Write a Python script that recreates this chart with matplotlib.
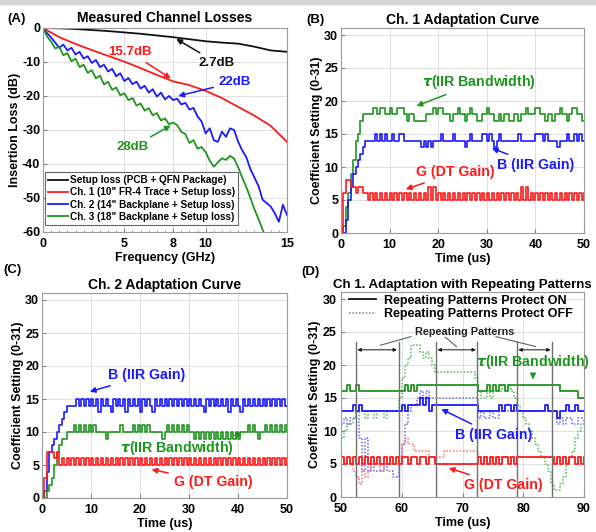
import matplotlib
matplotlib.use('Agg')
import matplotlib.pyplot as plt
import numpy as np
from matplotlib.ticker import MultipleLocator
from matplotlib.patches import Rectangle

plt.rcParams['font.family'] = ['Liberation Sans', 'DejaVu Sans']
plt.rcParams['font.weight'] = 'bold'
plt.rcParams['axes.unicode_minus'] = False
plt.rcParams['mathtext.fontset'] = 'dejavusans'

RED, BLUE, GREEN, BLACK = '#ff1a1a', '#1a1aff', '#1e961e', '#111111'
RED_L, BLUE_L, GREEN_L = '#ff8080', '#7a7aff', '#70c070'

# ---------------- (A) measured channel losses ----------------
freq_coarse = [0, 1, 2, 3, 4, 5, 6, 7, 8, 9, 10, 11, 12, 13, 14, 15]
setup_loss = [0, -0.1, -0.3, -0.6, -0.9, -1.3, -1.7, -2.2, -2.7, -3.3,
              -3.9, -4.3, -4.6, -5.5, -6.6, -7.0]
ch1_loss = [0, -2.7, -4.7, -6.5, -8.2, -9.9, -11.8, -13.8, -15.7, -16.8,
            -18.5, -20.6, -23.2, -25.8, -28.8, -33.5]

freq_fine = np.arange(61) * 0.25
ch2_loss = [0, -1.5, -2.8, -4.3, -5.8, -4.9, -6.6, -5.8, -7.8, -7.0,
            -9.0, -8.3, -10.3, -9.4, -11.5, -10.8, -12.8, -12.0, -14.2, -13.3,
            -15.6, -14.7, -16.5, -15.8, -17.8, -17.0, -19.0, -18.0, -20.2, -19.0,
            -21.0, -20.0, -21.2, -20.8, -22.5, -22.0, -24.0, -23.5, -26.0, -27.5,
            -31.0, -29.5, -33.0, -33.5, -30.5, -32.0, -29.5, -30.0, -33.5, -36.0,
            -38.0, -41.5, -44.0, -46.5, -50.5, -51.5, -52.5, -54.5, -57.0, -52.0,
            -55.0]
ch3_loss = [0, -2.5, -4.0, -6.0, -5.5, -8.0, -7.4, -9.8, -9.0, -11.5,
            -10.8, -13.2, -12.4, -14.8, -14.0, -16.6, -15.8, -18.2, -17.5, -19.8,
            -19.2, -21.2, -20.6, -22.8, -22.2, -24.3, -23.6, -25.7, -25.0, -27.2,
            -26.6, -28.3, -27.8, -28.6, -30.5, -31.2, -33.8, -33.0, -35.5, -35.0,
            -36.5, -39.0, -40.8, -39.5, -38.3, -38.8, -37.6, -38.4, -41.0, -44.0,
            -46.8, -50.0, -53.3, -56.2, -59.3, -62.5]
legend_a = ['Setup loss (PCB + QFN Package)',
            'Ch. 1 (10" FR-4 Trace + Setup loss)',
            'Ch. 2 (14" Backplane + Setup loss)',
            'Ch. 3 (18" Backplane + Setup loss)']

# ---------------- (B) Ch.1 adaptation, 0.5 us samples ----------------
t_bc = np.arange(101) * 0.5
tau_b = [0, 1, 4, 6, 9, 11, 14, 15, 17, 18,
         18, 18, 18, 19, 19, 18, 19, 19, 18, 18,
         19, 18, 18, 19, 19, 19, 18, 17, 18, 18,
         17, 17, 17, 17, 17, 18, 18, 18, 19, 18,
         19, 19, 18, 18, 18, 17, 18, 18, 19, 18,
         18, 17, 18, 19, 18, 18, 17, 17, 18, 18,
         19, 18, 18, 17, 17, 18, 17, 18, 18, 17,
         17, 18, 18, 17, 18, 18, 19, 18, 18, 18,
         19, 19, 18, 18, 17, 18, 18, 17, 18, 18,
         19, 18, 18, 17, 18, 19, 19, 18, 18, 17,
         17]
b_b = [0, 0, 2, 5, 7, 9, 10, 11, 12, 13,
       14, 14, 14, 14, 15, 14, 15, 14, 15, 14,
       14, 15, 14, 14, 15, 15, 14, 14, 14, 14,
       14, 14, 14, 13, 14, 13, 14, 13, 14, 14,
       14, 15, 14, 14, 14, 14, 15, 14, 14, 14,
       14, 13, 14, 15, 14, 14, 14, 14, 15, 15,
       14, 15, 14, 13, 14, 15, 14, 14, 14, 14,
       14, 14, 14, 15, 14, 14, 14, 14, 14, 14,
       15, 15, 15, 14, 15, 14, 14, 14, 14, 13,
       14, 14, 14, 15, 14, 14, 15, 14, 15, 14,
       14]
g_b = [0, 6, 8, 8, 7, 7, 6, 7, 7, 6,
       6, 5, 6, 5, 6, 5, 6, 5, 6, 5,
       6, 5, 6, 5, 6, 5, 6, 5, 6, 5,
       6, 5, 6, 5, 6, 5, 7, 5, 7, 5,
       6, 5, 6, 5, 6, 5, 6, 5, 6, 5,
       6, 5, 6, 5, 6, 5, 6, 5, 6, 5,
       6, 5, 6, 5, 6, 5, 6, 5, 6, 5,
       6, 5, 6, 5, 7, 5, 7, 5, 6, 5,
       6, 5, 6, 5, 6, 5, 6, 5, 6, 5,
       6, 5, 6, 5, 6, 5, 6, 5, 6, 5,
       6]

# ---------------- (C) Ch.2 adaptation ----------------
b_c = [0, 1, 4, 7, 8, 9, 10, 11, 12, 13,
       14, 14, 14, 14, 15, 14, 15, 14, 15, 14,
       15, 14, 15, 13, 15, 14, 15, 14, 13, 15,
       14, 15, 14, 15, 13, 15, 14, 15, 14, 15,
       13, 15, 14, 15, 14, 13, 15, 14, 15, 14,
       15, 14, 15, 14, 15, 14, 15, 14, 15, 14,
       15, 14, 15, 14, 15, 14, 13, 15, 14, 15,
       14, 15, 14, 15, 14, 15, 13, 15, 14, 15,
       14, 13, 15, 14, 15, 14, 15, 14, 15, 14,
       15, 14, 15, 14, 15, 14, 15, 14, 15, 14,
       14]
tau_c = [0, 0, 1, 2, 3, 5, 7, 8, 9, 9,
         10, 10, 10, 11, 10, 11, 10, 11, 10, 11,
         10, 11, 10, 10, 10, 10, 9, 10, 10, 10,
         10, 10, 11, 10, 10, 10, 10, 11, 10, 11,
         10, 11, 10, 11, 10, 10, 10, 10, 10, 9,
         10, 11, 10, 11, 10, 11, 10, 11, 10, 11,
         10, 10, 9, 10, 9, 10, 9, 10, 9, 10,
         9, 10, 9, 10, 9, 10, 9, 10, 9, 10,
         9, 10, 10, 10, 11, 10, 11, 10, 9, 10,
         10, 11, 10, 11, 10, 11, 10, 11, 10, 11,
         10]
g_c = [0, 3, 7, 7, 7, 6, 7, 5, 6, 5,
       6, 5, 6, 5, 6, 5, 6, 5, 6, 5,
       6, 5, 6, 5, 6, 5, 6, 5, 6, 5,
       6, 5, 6, 5, 6, 5, 6, 5, 6, 5,
       6, 5, 6, 5, 6, 5, 6, 5, 6, 5,
       6, 5, 6, 5, 6, 5, 6, 5, 6, 5,
       6, 5, 6, 5, 6, 5, 6, 5, 6, 5,
       6, 5, 6, 5, 6, 5, 6, 5, 6, 5,
       6, 5, 6, 5, 6, 5, 6, 5, 6, 5,
       6, 5, 6, 5, 6, 5, 6, 5, 6, 5,
       6]

# ---------------- (D) repeating patterns, 50..90 us ----------------
t_d = 50 + np.arange(81) * 0.5
tau_on = [16, 16, 17, 16, 16, 17, 16, 16, 16, 16,
          16, 16, 16, 16, 16, 16, 16, 16, 16, 16,
          16, 17, 16, 17, 16, 17, 17, 17, 17, 17,
          17, 17, 17, 17, 17, 17, 17, 17, 17, 17,
          17, 17, 17, 17, 17, 16, 16, 16, 17, 16,
          17, 16, 17, 17, 16, 17, 17, 17, 17, 17,
          17, 17, 17, 17, 17, 17, 17, 17, 17, 17,
          17, 17, 16, 16, 16, 16, 16, 16, 15, 15,
          15]
b_on = [13, 13, 13, 13, 14, 13, 14, 13, 13, 13,
        13, 13, 13, 13, 13, 13, 13, 13, 13, 13,
        14, 13, 14, 14, 14, 14, 15, 14, 15, 13,
        14, 14, 14, 14, 14, 14, 14, 14, 14, 14,
        14, 14, 14, 14, 14, 13, 13, 13, 13, 13,
        13, 13, 14, 13, 14, 14, 13, 14, 13, 13,
        13, 13, 13, 13, 13, 13, 13, 14, 13, 13,
        13, 12, 13, 13, 14, 13, 13, 14, 13, 13,
        13]
g_on = [6, 5, 6, 5, 6, 5, 6, 5, 6, 5,
        6, 5, 6, 5, 6, 5, 6, 5, 6, 5,
        6, 6, 5, 6, 6, 5, 6, 6, 5, 6,
        6, 5, 5, 5, 5, 5, 5, 5, 5, 5,
        5, 5, 5, 5, 5, 6, 5, 6, 5, 6,
        5, 6, 5, 6, 6, 5, 6, 5, 6, 6,
        6, 6, 6, 6, 6, 6, 6, 6, 6, 6,
        5, 6, 5, 6, 5, 6, 6, 5, 6, 5,
        6]
tau_off = [9, 10, 11, 11, 12, 13, 13, 13, 12, 13,
           13, 12, 13, 13, 12, 13, 13, 13, 13, 15,
           18, 20, 21, 23, 23, 23, 22, 21, 22, 21,
           20, 19, 19, 19, 19, 19, 19, 19, 19, 19,
           19, 19, 19, 19, 18, 16, 15, 15, 16, 15,
           16, 16, 16, 17, 17, 17, 16, 15, 14, 13,
           12, 11, 10, 9, 8, 7, 6, 5, 4, 2,
           1, 1, 2, 3, 5, 6, 7, 9, 10, 11,
           12]
b_off = [11, 12, 11, 12, 12, 13, 9, 4, 9, 4,
         5, 4, 4, 4, 5, 4, 4, 3, 3, 5,
         8, 11, 13, 14, 14, 15, 16, 15, 16, 15,
         15, 15, 15, 15, 15, 15, 15, 15, 15, 15,
         15, 15, 15, 15, 15, 12, 13, 12, 12, 13,
         12, 12, 13, 13, 13, 13, 13, 13, 13, 13,
         13, 13, 13, 13, 13, 13, 13, 13, 13, 13,
         13, 11, 12, 11, 12, 12, 11, 11, 12, 12,
         12]
g_off = [6, 5, 6, 5, 4, 3, 2, 4, 3, 4,
         5, 5, 5, 4, 5, 5, 5, 5, 5, 6,
         8, 9, 8, 8, 7, 7, 7, 7, 7, 6,
         6, 6, 6, 6, 7, 7, 7, 7, 7, 7,
         7, 7, 7, 7, 7, 6, 6, 5, 6, 6,
         6, 5, 6, 6, 6, 6, 6, 6, 6, 6,
         6, 6, 6, 6, 6, 6, 6, 6, 6, 6,
         6, 5, 6, 6, 5, 6, 6, 6, 5, 6,
         6]
pattern_edges = [52.4, 59.5, 65.6, 72.4, 79.0, 84.8]
pattern_spans = [(52.7, 59.2), (65.9, 72.2), (79.2, 84.5)]

W, H = 596, 532
fig = plt.figure(figsize=(W / 100, H / 100), dpi=100)
fig.patches.append(Rectangle((0, 1 - 4 / H), 1, 4 / H, transform=fig.transFigure,
                             color='#d4d4d4', zorder=0))


def box(l, t, r, b):
    return [l / W, 1 - b / H, (r - l) / W, (b - t) / H]


def style(ax):
    ax.grid(True, color='#dadada', linewidth=0.6)
    ax.set_axisbelow(True)
    for s in ax.spines.values():
        s.set_color('#9a9a9a')
        s.set_linewidth(0.8)
    ax.tick_params(direction='in', length=3, color='#808080', labelsize=9, pad=2)
    ax.tick_params(axis='x', pad=4.5)
    ax.tick_params(which='minor', direction='in', length=1.5, color='#909090')


axA = fig.add_axes(box(43, 28, 287, 232))
axB = fig.add_axes(box(341, 28.4, 584, 233))
axC = fig.add_axes(box(42, 293.4, 287, 498))
axD = fig.add_axes(box(341, 292.4, 584, 497))
for ax in (axA, axB, axC, axD):
    style(ax)

# (A)
axA.plot(freq_coarse, setup_loss, color=BLACK, lw=1.3, label=legend_a[0])
axA.plot(freq_coarse, ch1_loss, color=RED, lw=1.3, label=legend_a[1])
axA.plot(freq_fine, ch2_loss, color=BLUE, lw=1.3, label=legend_a[2])
axA.plot(freq_fine[:len(ch3_loss)], ch3_loss, color=GREEN, lw=1.3, label=legend_a[3])
axA.set_xlim(0, 15)
axA.set_ylim(-60, 0)
axA.set_xticks([0, 5, 8, 10, 15])
axA.set_yticks([0, -10, -20, -30, -40, -50, -60])
axA.xaxis.set_minor_locator(MultipleLocator(0.5))
axA.set_title('Measured Channel Losses', fontsize=10, fontweight='bold', pad=4)
axA.set_xlabel('Frequency (GHz)', fontsize=9, fontweight='bold', labelpad=1)
axA.set_ylabel('Insertion Loss (dB)', fontsize=9, fontweight='bold', labelpad=1)
leg = axA.legend(loc='lower left', bbox_to_anchor=(0.008, 0.035), fontsize=7.2,
                 frameon=True, fancybox=False, borderpad=0.3, labelspacing=0.22,
                 handlelength=2.0, handletextpad=0.2, borderaxespad=0)
leg.get_frame().set_edgecolor('#404040')
leg.get_frame().set_linewidth(0.8)
annA = dict(fontsize=9.5, fontweight='bold', ha='center', va='center')
ann = dict(fontsize=10.2, fontweight='bold', ha='center', va='center')
axA.annotate('15.7dB', xy=(8.0, -15.3), xytext=(5.35, -7.1), color=RED,
             arrowprops=dict(arrowstyle='-|>', color=RED, lw=1.1, mutation_scale=8), **annA)
axA.annotate('2.7dB', xy=(8.05, -2.8), xytext=(10.7, -10.3), color=BLACK,
             arrowprops=dict(arrowstyle='-|>', color=BLACK, lw=1.1, mutation_scale=8), **annA)
axA.annotate('22dB', xy=(8.15, -20.2), xytext=(11.8, -15.9), color=BLUE,
             arrowprops=dict(arrowstyle='-|>', color=BLUE, lw=1.1, mutation_scale=8), **annA)
axA.annotate('28dB', xy=(8.0, -28.3), xytext=(5.5, -35.0), color=GREEN,
             arrowprops=dict(arrowstyle='-|>', color=GREEN, lw=1.1, mutation_scale=8), **annA)


def coef_axes(ax, x0, x1, title, title_size=10):
    ax.set_xlim(x0, x1)
    ax.set_ylim(0, 31)
    ax.set_yticks([0, 5, 10, 15, 20, 25, 30])
    ax.set_title(title, fontsize=title_size, fontweight='bold', pad=3)
    ax.set_xlabel('Time (us)', fontsize=9, fontweight='bold', labelpad=1)
    ax.set_ylabel('Coefficient Setting (0-31)', fontsize=9, fontweight='bold', labelpad=1)


# (B)
axB.step(t_bc, tau_b, where='post', color=GREEN, lw=1.2)
axB.step(t_bc, b_b, where='post', color=BLUE, lw=1.2)
axB.step(t_bc, g_b, where='post', color=RED, lw=1.2)
coef_axes(axB, 0, 50, 'Ch. 1 Adaptation Curve')
axB.set_xticks([0, 10, 20, 30, 40, 50])
axB.annotate(r'$\tau$(IIR Bandwidth)', xy=(15.0, 19.1), xytext=(28.4, 22.9), color=GREEN,
             arrowprops=dict(arrowstyle='-|>', color=GREEN, lw=1.1, mutation_scale=8), **ann)
axB.annotate('B (IIR Gain)', xy=(30.5, 13.0), xytext=(40.1, 10.3), color=BLUE,
             arrowprops=dict(arrowstyle='-|>', color=BLUE, lw=1.1, mutation_scale=8), **ann)
axB.annotate('G (DT Gain)', xy=(12.8, 6.5), xytext=(23.6, 9.2), color=RED,
             arrowprops=dict(arrowstyle='-|>', color=RED, lw=1.1, mutation_scale=8), **ann)

# (C)
axC.step(t_bc, b_c, where='post', color=BLUE, lw=1.2)
axC.step(t_bc, tau_c, where='post', color=GREEN, lw=1.2)
axC.step(t_bc, g_c, where='post', color=RED, lw=1.2)
coef_axes(axC, 0, 50, 'Ch. 2 Adaptation Curve')
axC.set_xticks([0, 10, 20, 30, 40, 50])
axC.annotate('B (IIR Gain)', xy=(9.2, 16.0), xytext=(21.4, 18.6), color=BLUE,
             arrowprops=dict(arrowstyle='-|>', color=BLUE, lw=1.1, mutation_scale=8), **ann)
axC.annotate(r'$\tau$(IIR Bandwidth)', xy=(41.4, 9.8), xytext=(27.5, 7.6), color=GREEN,
             arrowprops=dict(arrowstyle='-|>', color=GREEN, lw=1.1, mutation_scale=8), **ann)
axC.annotate('G (DT Gain)', xy=(21.8, 4.4), xytext=(34.9, 2.4), color=RED,
             arrowprops=dict(arrowstyle='-|>', color=RED, lw=1.1, mutation_scale=8), **ann)

# (D)
dot = (0, (1, 1))
axD.step(t_d, tau_off, where='post', color=GREEN_L, lw=1.2, ls=dot)
axD.step(t_d, b_off, where='post', color=BLUE_L, lw=1.2, ls=dot)
axD.step(t_d, g_off, where='post', color=RED_L, lw=1.2, ls=dot)
axD.step(t_d, tau_on, where='post', color=GREEN, lw=1.3)
axD.step(t_d, b_on, where='post', color=BLUE, lw=1.3)
axD.step(t_d, g_on, where='post', color=RED, lw=1.3)
for xe in pattern_edges:
    axD.plot([xe, xe], [0, 23.5], color='#707070', lw=1.0)
for a, b in pattern_spans:
    axD.annotate('', xy=(a, 22.3), xytext=(b, 22.3),
                 arrowprops=dict(arrowstyle='<|-|>', color=BLACK, lw=0.7, mutation_scale=5,
                                 shrinkA=0, shrinkB=0))
axD.text(70.3, 25.0, 'Repeating Patterns', fontsize=7.8, fontweight='bold', ha='center',
         va='center', color='#222222')
for (x1, y1), (x2, y2) in [((61.5, 24.3), (56.5, 23.0)), ((67.2, 24.2), (69.0, 22.8)),
                           ((75.5, 24.3), (82.0, 22.8))]:
    axD.plot([x1, x2], [y1, y2], color='#606060', lw=0.8)
coef_axes(axD, 50, 90, 'Ch 1. Adaptation with Repeating Patterns', title_size=9.5)
axD.set_xticks([50, 60, 70, 80, 90])
axD.tick_params(axis='y', pad=3)
axD.plot([], [], color=BLACK, lw=1.3, label='Repeating Patterns Protect ON')
axD.plot([], [], color='#909090', lw=1.2, ls=dot, label='Repeating Patterns Protect OFF')
axD.legend(loc='upper left', bbox_to_anchor=(0.0, 1.025), frameon=False, fontsize=9,
           handlelength=2.2, handletextpad=0.6, labelspacing=0.1, borderaxespad=0.2)
axD.annotate(r'$\tau$(IIR Bandwidth)', xy=(81.6, 17.4), xytext=(81.6, 20.5), color=GREEN,
             arrowprops=dict(arrowstyle='-|>', color=GREEN, lw=1.1, mutation_scale=8), **ann)
axD.annotate('B (IIR Gain)', xy=(66.1, 13.5), xytext=(75.2, 9.4), color=BLUE,
             arrowprops=dict(arrowstyle='-|>', color=BLUE, lw=1.1, mutation_scale=8), **ann)
axD.annotate('G (DT Gain)', xy=(67.3, 4.5), xytext=(76.7, 1.8), color=RED,
             arrowprops=dict(arrowstyle='-|>', color=RED, lw=1.1, mutation_scale=8), **ann)

for lbl, x, y in [('(A)', 7, 19), ('(B)', 306, 20), ('(C)', 3, 270), ('(D)', 301, 272)]:
    fig.text(x / W, 1 - y / H, lbl, fontsize=9.5, fontweight='bold', va='center', ha='left')

fig.savefig('out.png', dpi=100)
